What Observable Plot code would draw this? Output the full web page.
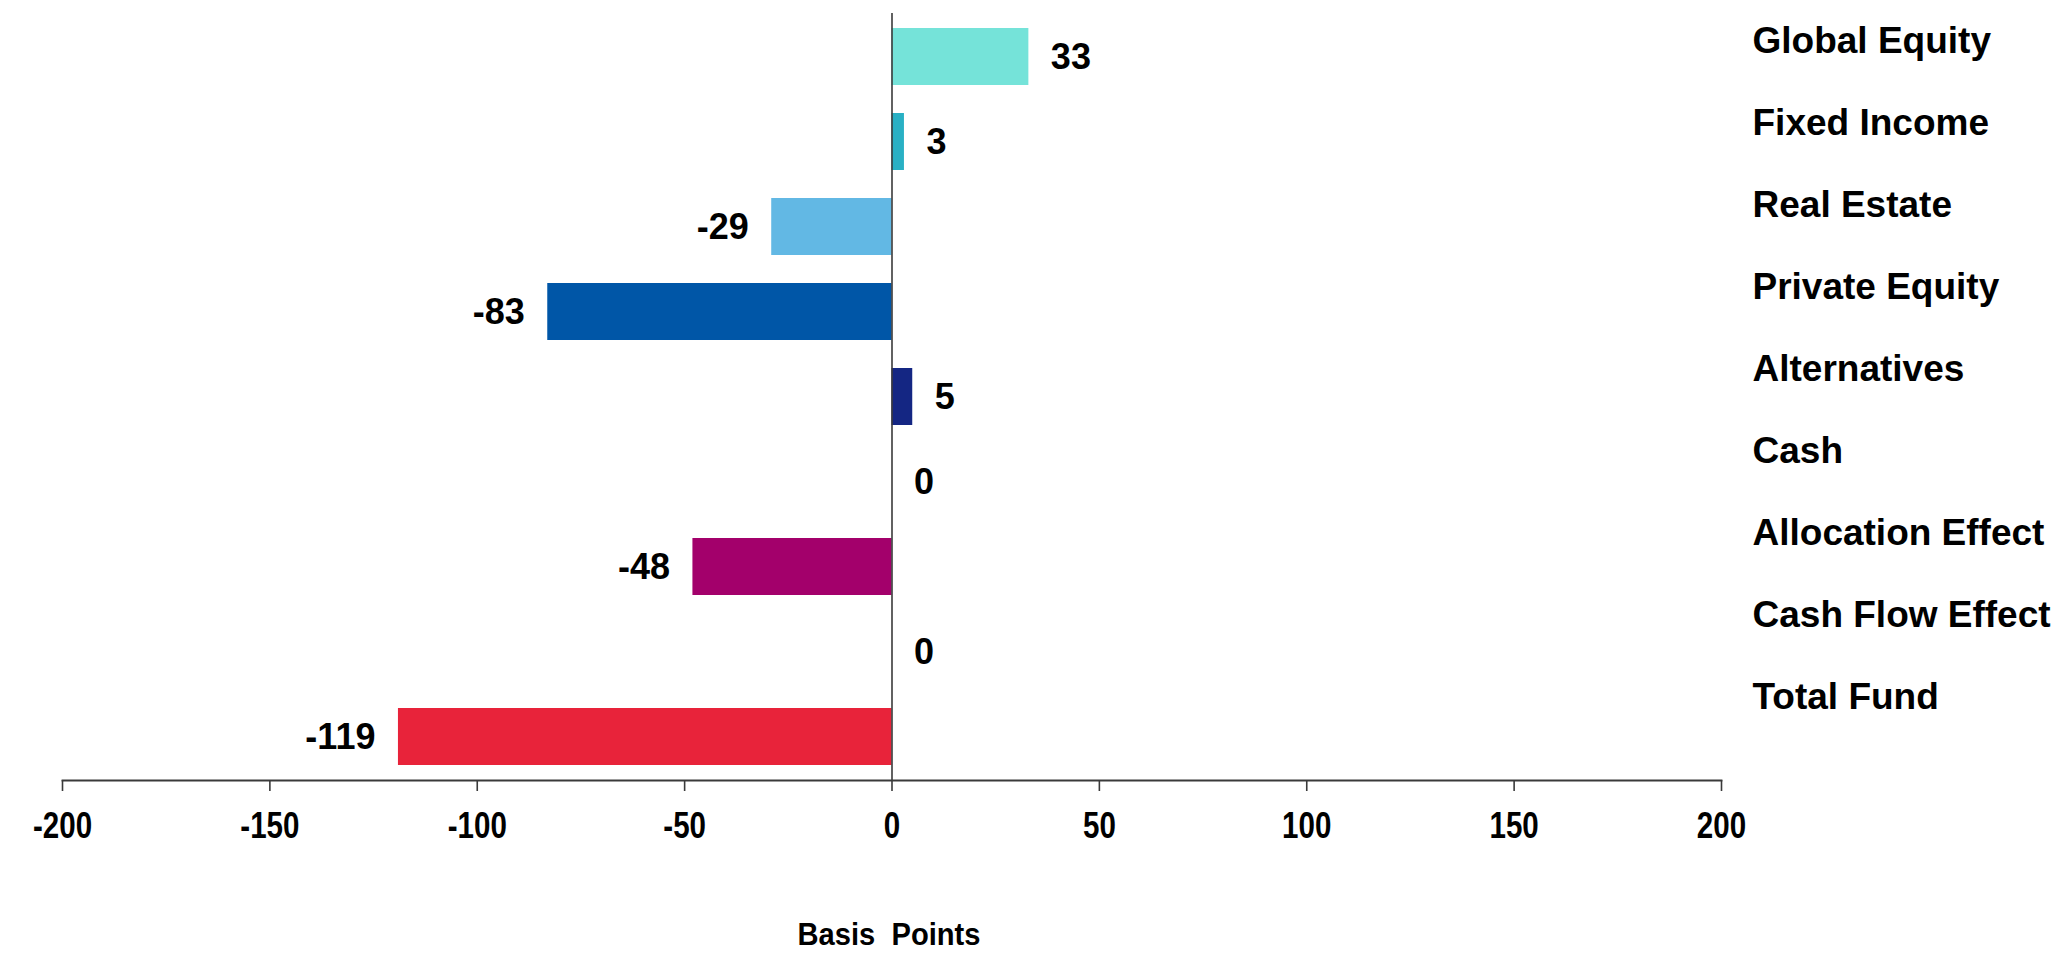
<!DOCTYPE html>
<html>
<head>
<meta charset="utf-8">
<script src="https://cdn.jsdelivr.net/npm/d3@7"></script>
<script src="https://cdn.jsdelivr.net/npm/@observablehq/plot@0.6"></script>
<style>
  body { margin: 0; background: #fff; }
  #chart { position: relative; width: 2065px; height: 957px; }
  #chart svg { position: absolute; left: 0; top: 0; }
</style>
</head>
<body>
<div id="chart"></div>
<script>
// Attribution by asset class, in basis points
const categories = [
  "Global Equity", "Fixed Income", "Real Estate", "Private Equity",
  "Alternatives", "Cash", "Allocation Effect", "Cash Flow Effect", "Total Fund"
];
const values = [33, 3, -29, -83, 5, 0, -48, 0, -119];
const colors = [
  "#75e3d9", "#29b0c4", "#62b8e4", "#0056a7",
  "#142683", "#9a9a9a", "#a3006b", "#9a9a9a", "#e8233a"
];
const xTicks = [-200, -150, -100, -50, 0, 50, 100, 150, 200];
const axisTitle = "Basis  Points";

const rows = categories.map((category, i) => ({category, value: values[i]}));

const W = 2065, H = 957;
const sans = "'Liberation Sans', Arial, Helvetica, sans-serif";
const label = d => String(d.value);

const chart = Plot.plot({
  width: W,
  height: H,
  marginTop: 13,
  marginBottom: 177,
  marginLeft: 62,
  marginRight: 344,
  style: {fontFamily: sans, background: "transparent", color: "#000"},
  x: {domain: [-200, 200]},
  y: {domain: categories, paddingInner: 0.33, paddingOuter: 0.165, axis: null},
  color: {domain: categories, range: colors},
  marks: [
    Plot.barX(rows, {x: "value", y: "category", fill: "category"}),
    Plot.ruleX([0], {stroke: "#3a3a3a", strokeWidth: 1.6}),
    Plot.frame({anchor: "bottom", stroke: "#3a3a3a", strokeWidth: 1.8}),
    Plot.axisX({
      ticks: xTicks,
      tickSize: 11,
      tickPadding: 21,
      tickFormat: d => String(d),
      stroke: "#3a3a3a",
      strokeWidth: 1.6,
      fill: "#000",
      fontSize: 36,
      fontWeight: "bold",
      className: "narrow",
      label: null
    }),
    Plot.text([axisTitle], {
      text: d => d,
      frameAnchor: "bottom",
      dy: 154,
      dx: -3,
      lineAnchor: "middle",
      fontSize: 32,
      fontWeight: "bold",
      fill: "#000",
      className: "narrow-title"
    }),
    Plot.text(rows.filter(d => d.value >= 0), {
      x: "value", y: "category", text: label,
      textAnchor: "start", dx: 22,
      fontSize: 36, fontWeight: "bold", fill: "#000"
    }),
    Plot.text(rows.filter(d => d.value < 0), {
      x: "value", y: "category", text: label,
      textAnchor: "end", dx: -23,
      fontSize: 36, fontWeight: "bold", fill: "#000"
    })
  ]
});

// Category names listed down the right-hand side
const names = Plot.plot({
  width: W,
  height: H,
  marginLeft: 1752,
  marginRight: 0,
  style: {fontFamily: sans, background: "transparent"},
  y: {type: "point", domain: categories, range: [38, 699], padding: 0, axis: null},
  marks: [
    Plot.text(categories, {
      y: d => d, text: d => d,
      frameAnchor: "left", textAnchor: "start",
      fontSize: 37, fontWeight: "bold", fill: "#000"
    })
  ]
});

const root = document.getElementById("chart");
root.appendChild(chart);
root.appendChild(names);

// Axis numbers and title are set in a condensed face: squeeze the glyphs horizontally
function condense(selector, factor) {
  d3.select(chart).selectAll(selector).each(function () {
    const len = this.getComputedTextLength();
    this.setAttribute("textLength", len * factor);
    this.setAttribute("lengthAdjust", "spacingAndGlyphs");
  });
}
condense("g.narrow text", 0.82);
condense("g.narrow-title text", 0.91);
</script>
</body>
</html>
